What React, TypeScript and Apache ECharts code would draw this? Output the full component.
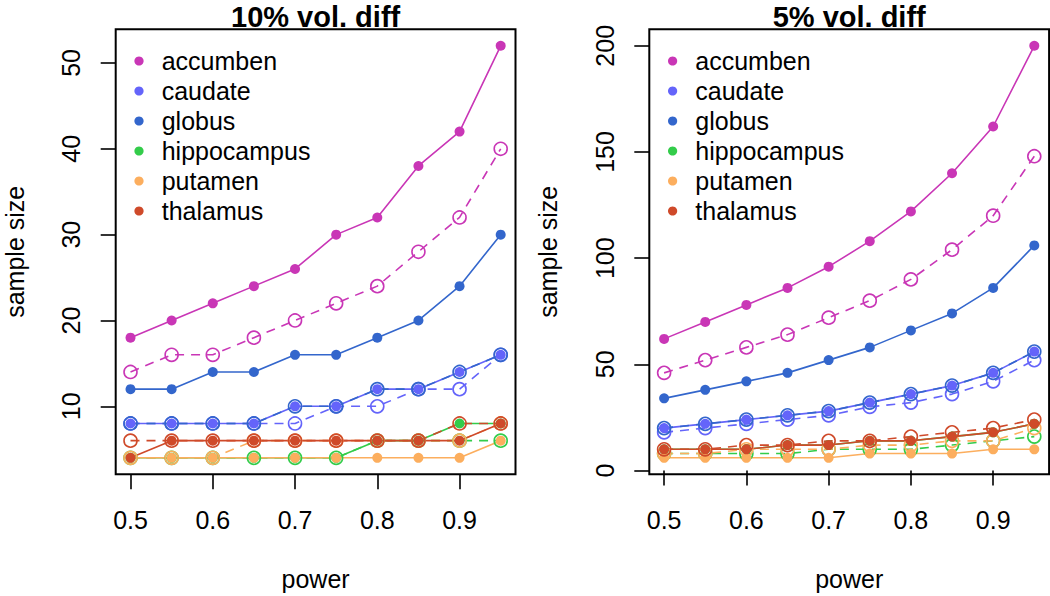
import React, { useEffect, useRef } from "react";
import * as echarts from "echarts";

const power = [0.5, 0.55, 0.6, 0.65, 0.7, 0.75, 0.8, 0.85, 0.9, 0.95];
const regions = ["accumben", "caudate", "globus", "hippocampus", "putamen", "thalamus"];
const colors = ["#C936B6", "#6464FA", "#3366CC", "#33CC4A", "#FCAE5E", "#CF4A2A"];

const titles = ["10% vol. diff", "5% vol. diff"];
const xTicks = [0.5, 0.6, 0.7, 0.8, 0.9];
const yTicks10 = [10, 20, 30, 40, 50];
const yTicks5 = [0, 50, 100, 150, 200];

// 10% vol. diff (solid = filled points, dashed = open points)
const acc10Solid = [18, 20, 22, 24, 26, 30, 32, 38, 42, 52];
const acc10Dashed = [14, 16, 16, 18, 20, 22, 24, 28, 32, 40];
const cau10Solid = [8, 8, 8, 8, 10, 10, 12, 12, 14, 16];
const cau10Dashed = [8, 8, 8, 8, 8, 10, 10, 12, 12, 16];
const glo10Solid = [12, 12, 14, 14, 16, 16, 18, 20, 24, 30];
const glo10Dashed = [8, 8, 8, 8, 10, 10, 12, 12, 14, 16];
const hip10Solid = [4, 4, 4, 4, 4, 4, 6, 6, 8, 8];
const hip10Dashed = [4, 4, 4, 4, 4, 4, 6, 6, 6, 6];
const put10Solid = [4, 4, 4, 4, 4, 4, 4, 4, 4, 6];
const put10Dashed = [4, 4, 4, 6, 6, 6, 6, 6, 6, 8];
const tha10Solid = [4, 6, 6, 6, 6, 6, 6, 6, 6, 8];
const tha10Dashed = [6, 6, 6, 6, 6, 6, 6, 6, 8, 8];

// 5% vol. diff
const acc5Solid = [62, 70, 78, 86, 96, 108, 122, 140, 162, 200];
const acc5Dashed = [46, 52, 58, 64, 72, 80, 90, 104, 120, 148];
const cau5Solid = [20, 22, 24, 26, 28, 32, 36, 40, 46, 56];
const cau5Dashed = [18, 20, 22, 24, 26, 30, 32, 36, 42, 52];
const glo5Solid = [34, 38, 42, 46, 52, 58, 66, 74, 86, 106];
const glo5Dashed = [20, 22, 24, 26, 28, 32, 36, 40, 46, 56];
const hip5Solid = [10, 10, 10, 12, 12, 14, 14, 16, 18, 22];
const hip5Dashed = [8, 8, 8, 8, 10, 10, 10, 12, 14, 16];
const put5Solid = [6, 6, 6, 6, 6, 8, 8, 8, 10, 10];
const put5Dashed = [8, 8, 10, 10, 10, 12, 12, 14, 14, 20];
const tha5Solid = [10, 10, 10, 12, 12, 14, 14, 16, 18, 22];
const tha5Dashed = [10, 10, 12, 12, 14, 14, 16, 18, 20, 24];

const panel10 = [
  [acc10Solid, acc10Dashed],
  [cau10Solid, cau10Dashed],
  [glo10Solid, glo10Dashed],
  [hip10Solid, hip10Dashed],
  [put10Solid, put10Dashed],
  [tha10Solid, tha10Dashed],
];
const panel5 = [
  [acc5Solid, acc5Dashed],
  [cau5Solid, cau5Dashed],
  [glo5Solid, glo5Dashed],
  [hip5Solid, hip5Dashed],
  [put5Solid, put5Dashed],
  [tha5Solid, tha5Dashed],
];

const FONT = "'Liberation Sans', Arial, Helvetica, sans-serif";

function rExtent(vals: number[]) {
  const lo = Math.min(...vals);
  const hi = Math.max(...vals);
  const d = (hi - lo) * 0.04;
  return [lo - d, hi + d];
}

export default function App() {
  const ref = useRef<HTMLDivElement>(null);
  useEffect(() => {
    if (!ref.current) return;
    const chart = echarts.init(ref.current, undefined, { renderer: "svg" });

    const grids = [
      { left: 115.7, top: 29.3, width: 399.8, height: 445 },
      { left: 649.3, top: 29.3, width: 399.8, height: 445 },
    ];
    const panels = [panel10, panel5];
    const yTicks = [yTicks10, yTicks5];
    const xExt = rExtent(power);

    const series: any[] = [];
    panels.forEach((panel, pi) => {
      panel.forEach((pair, ri) => {
        const c = colors[ri];
        series.push({
          type: "line",
          name: regions[ri],
          xAxisIndex: pi,
          yAxisIndex: pi,
          data: power.map((p, i) => [p, pair[0][i]]),
          symbol: "circle",
          symbolSize: 10,
          itemStyle: { color: c, borderWidth: 0 },
          lineStyle: { color: c, width: 1.6, type: "solid" },
        });
        series.push({
          type: "line",
          name: regions[ri] + " (dashed)",
          xAxisIndex: pi,
          yAxisIndex: pi,
          data: power.map((p, i) => [p, pair[1][i]]),
          symbol: "circle",
          symbolSize: 13,
          itemStyle: { color: "rgba(0,0,0,0)", borderColor: c, borderWidth: 1.6 },
          lineStyle: { color: c, width: 1.6, type: [9, 7] },
        });
      });
    });

    const xAxes = grids.map((g, gi) => ({
      gridIndex: gi,
      type: "value",
      min: xExt[0],
      max: xExt[1],
      splitLine: { show: false },
      axisLine: { show: false },
      axisTick: {
        show: true,
        inside: false,
        length: 15,
        customValues: xTicks,
        lineStyle: { color: "#000", width: 1.6 },
      },
      axisLabel: {
        customValues: xTicks,
        margin: 33,
        fontSize: 25,
        color: "#000",
        fontFamily: FONT,
        formatter: (v: number) => v.toFixed(1),
      },
    }));

    const yAxes = grids.map((g, gi) => {
      const all = panels[gi].flat().flat();
      const ext = rExtent(all);
      return {
        gridIndex: gi,
        type: "value",
        min: ext[0],
        max: ext[1],
        splitLine: { show: false },
        axisLine: { show: false },
        axisTick: {
          show: true,
          inside: false,
          length: 15,
          customValues: yTicks[gi],
          lineStyle: { color: "#000", width: 1.6 },
        },
        axisLabel: {
          customValues: yTicks[gi],
          rotate: 90,
          margin: 32,
          fontSize: 25,
          color: "#000",
          fontFamily: FONT,
          formatter: (v: number) => String(Math.round(v)),
        },
      };
    });

    const graphic: any[] = [];
    grids.forEach((g, gi) => {
      const cx = g.left + g.width / 2;
      graphic.push({
        type: "text",
        x: cx,
        y: 16.5,
        style: {
          text: titles[gi],
          fontSize: 29,
          fontWeight: "bold",
          fontFamily: FONT,
          fill: "#000",
          align: "center",
          verticalAlign: "middle",
        },
      });
      graphic.push({
        type: "text",
        x: cx,
        y: 579,
        style: {
          text: "power",
          fontSize: 25,
          fontFamily: FONT,
          fill: "#000",
          align: "center",
          verticalAlign: "middle",
        },
      });
      graphic.push({
        type: "text",
        x: g.left - 101,
        y: g.top + g.height / 2,
        rotation: Math.PI / 2,
        style: {
          text: "sample size",
          fontSize: 25,
          fontFamily: FONT,
          fill: "#000",
          align: "center",
          verticalAlign: "middle",
        },
      });
      regions.forEach((r, ri) => {
        const yy = 61 + ri * 30;
        graphic.push({
          type: "circle",
          shape: { cx: g.left + 23.3, cy: yy, r: 4.6 },
          style: { fill: colors[ri] },
        });
        graphic.push({
          type: "text",
          x: g.left + 46,
          y: yy,
          style: {
            text: r,
            fontSize: 25,
            fontFamily: FONT,
            fill: "#000",
            align: "left",
            verticalAlign: "middle",
          },
        });
      });
    });

    chart.setOption({
      animation: false,
      backgroundColor: "#fff",
      grid: grids.map((g) => ({
        ...g,
        show: true,
        borderColor: "#000",
        borderWidth: 2,
        backgroundColor: "rgba(0,0,0,0)",
        containLabel: false,
        outerBoundsMode: "none",
      })),
      xAxis: xAxes,
      yAxis: yAxes,
      series,
      graphic,
    });
    return () => chart.dispose();
  }, []);
  return (
    <div
      ref={ref}
      style={{ position: "absolute", left: 0, top: 0, width: 1050, height: 596 }}
    />
  );
}
